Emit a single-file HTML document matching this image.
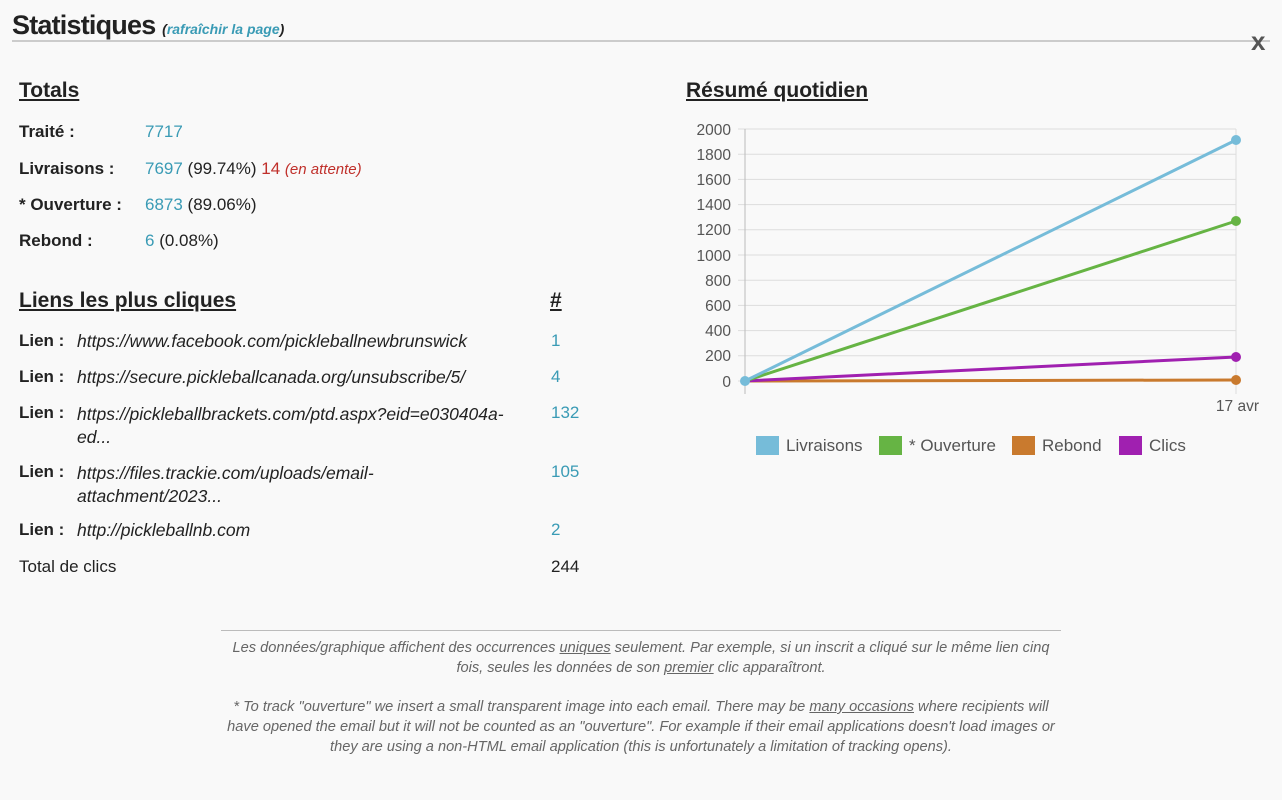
<!DOCTYPE html>
<html><head><meta charset="utf-8"><style>
body{margin:0;width:1282px;height:800px;background:#f9f9f9;font-family:"Liberation Sans",sans-serif;color:#222;position:relative;overflow:hidden}
.a{position:absolute;white-space:nowrap}
.b{color:#3a9bb5}
.r{color:#c0302b}
.h{font-size:21px;font-weight:bold;text-decoration:underline}
.lbl{font-size:17px;font-weight:bold}
.v{font-size:17px}
.it{font-style:italic;font-size:17.5px}
.foot{font-style:italic;font-size:14.6px;color:#666;text-align:center;width:840px;left:221px;line-height:20px;white-space:normal}
</style></head><body>
<div class="a" style="left:12px;top:10px;font-size:27px;font-weight:bold;letter-spacing:-0.8px">Statistiques <span style="font-size:14px;font-style:italic;color:#222;letter-spacing:0">(<span class="b">rafraîchir la page</span>)</span></div>
<div class="a" style="left:12px;top:40px;width:1258px;height:2px;background:#ccc"></div>
<div class="a" style="left:1251px;top:26px;font-size:26px;font-weight:bold;color:#555">x</div>

<div class="a h" style="left:19px;top:79px">Totals</div>
<div class="a lbl" style="left:19px;top:122px">Traité :</div><div class="a v b" style="left:145px;top:122px">7717</div>
<div class="a lbl" style="left:19px;top:159px">Livraisons :</div><div class="a v" style="left:145px;top:159px"><span class="b">7697</span> (99.74%) <span class="r">14</span> <span class="r" style="font-style:italic;font-size:15px">(en attente)</span></div>
<div class="a lbl" style="left:19px;top:195px">* Ouverture :</div><div class="a v" style="left:145px;top:195px"><span class="b">6873</span> (89.06%)</div>
<div class="a lbl" style="left:19px;top:231px">Rebond :</div><div class="a v" style="left:145px;top:231px"><span class="b">6</span> (0.08%)</div>

<div class="a h" style="left:19px;top:289px">Liens les plus cliques</div>
<div class="a h" style="left:550px;top:289px">#</div>
<div class="a lbl" style="left:19px;top:331px">Lien :</div><div class="a it" style="left:77px;top:331px">https://www.facebook.com/pickleballnewbrunswick</div><div class="a v b" style="left:551px;top:331px">1</div>
<div class="a lbl" style="left:19px;top:367px">Lien :</div><div class="a it" style="left:77px;top:367px">https://secure.pickleballcanada.org/unsubscribe/5/</div><div class="a v b" style="left:551px;top:367px">4</div>
<div class="a lbl" style="left:19px;top:403px">Lien :</div><div class="a it" style="left:77px;top:403px;line-height:23px">https://pickleballbrackets.com/ptd.aspx?eid=e030404a-<br>ed...</div><div class="a v b" style="left:551px;top:403px">132</div>
<div class="a lbl" style="left:19px;top:462px">Lien :</div><div class="a it" style="left:77px;top:462px;line-height:23px">https://files.trackie.com/uploads/email-<br>attachment/2023...</div><div class="a v b" style="left:551px;top:462px">105</div>
<div class="a lbl" style="left:19px;top:520px">Lien :</div><div class="a it" style="left:77px;top:520px">http://pickleballnb.com</div><div class="a v b" style="left:551px;top:520px">2</div>
<div class="a v" style="left:19px;top:557px">Total de clics</div><div class="a v" style="left:551px;top:557px">244</div>

<div class="a h" style="left:686px;top:79px">Résumé quotidien</div>
<svg class="a" style="left:0;top:0" width="1282" height="800">
<g stroke="#ddd" stroke-width="1">
<line x1="738" x2="1236" y1="129" y2="129"/><line x1="738" x2="1236" y1="154.2" y2="154.2"/><line x1="738" x2="1236" y1="179.4" y2="179.4"/><line x1="738" x2="1236" y1="204.6" y2="204.6"/><line x1="738" x2="1236" y1="229.8" y2="229.8"/><line x1="738" x2="1236" y1="255" y2="255"/><line x1="738" x2="1236" y1="280.2" y2="280.2"/><line x1="738" x2="1236" y1="305.4" y2="305.4"/><line x1="738" x2="1236" y1="330.6" y2="330.6"/><line x1="738" x2="1236" y1="355.8" y2="355.8"/><line x1="738" x2="1236" y1="381" y2="381"/>
<line x1="1236" x2="1236" y1="129" y2="394"/>
</g>
<line x1="745" x2="745" y1="129" y2="394" stroke="#bbb"/>
<g font-size="15.5" fill="#555" text-anchor="end" font-family="Liberation Sans">
<text x="731" y="135">2000</text><text x="731" y="160">1800</text><text x="731" y="185">1600</text><text x="731" y="210">1400</text><text x="731" y="235">1200</text><text x="731" y="261">1000</text><text x="731" y="286">800</text><text x="731" y="311">600</text><text x="731" y="336">400</text><text x="731" y="361">200</text><text x="731" y="387">0</text>
<text x="1259" y="411">17 avr</text>
</g>
<g stroke-width="3" fill="none">
<line x1="745" y1="381" x2="1236" y2="380" stroke="#c97a2e"/>
<line x1="745" y1="381" x2="1236" y2="357" stroke="#a020b0"/>
<line x1="745" y1="381" x2="1236" y2="221" stroke="#66b444"/>
<line x1="745" y1="381" x2="1236" y2="140" stroke="#76bcd9"/>
</g>
<circle cx="1236" cy="380" r="5" fill="#c97a2e"/><circle cx="1236" cy="357" r="5" fill="#a020b0"/><circle cx="1236" cy="221" r="5" fill="#66b444"/><circle cx="1236" cy="140" r="5" fill="#76bcd9"/><circle cx="745" cy="381" r="5" fill="#76bcd9"/>
<g font-size="17" fill="#555" font-family="Liberation Sans">
<rect x="756" y="436" width="23" height="19" fill="#76bcd9"/><text x="786" y="451">Livraisons</text>
<rect x="879" y="436" width="23" height="19" fill="#66b444"/><text x="909" y="451">* Ouverture</text>
<rect x="1012" y="436" width="23" height="19" fill="#c97a2e"/><text x="1042" y="451">Rebond</text>
<rect x="1119" y="436" width="23" height="19" fill="#a020b0"/><text x="1149" y="451">Clics</text>
</g>
</svg>

<div class="a" style="left:221px;top:630px;width:840px;height:1px;background:#bbb"></div>
<div class="a foot" style="top:638px">Les données/graphique affichent des occurrences <u>uniques</u> seulement. Par exemple, si un inscrit a cliqué sur le même lien cinq fois, seules les données de son <u>premier</u> clic apparaîtront.</div>
<div class="a foot" style="top:697px">* To track "ouverture" we insert a small transparent image into each email. There may be <u>many occasions</u> where recipients will have opened the email but it will not be counted as an "ouverture". For example if their email applications doesn't load images or they are using a non-HTML email application (this is unfortunately a limitation of tracking opens).</div>
</body></html>
